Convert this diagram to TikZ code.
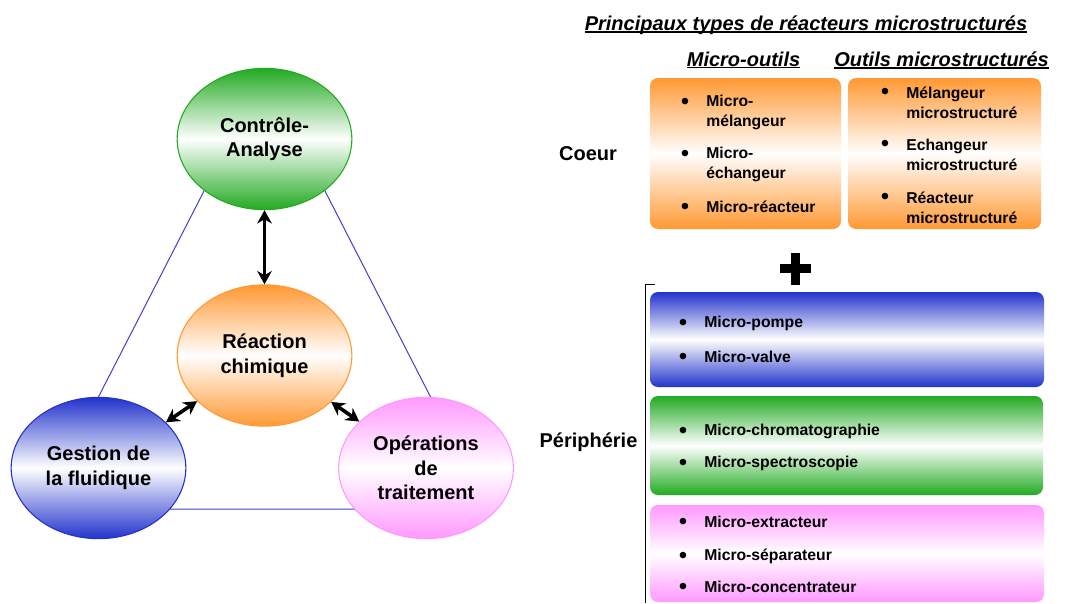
\documentclass[tikz,border=0pt]{standalone}
\usepackage{fontspec}
\setmainfont{Liberation Sans}
\usetikzlibrary{shapes.geometric,arrows.meta}
\definecolor{vertC}{RGB}{34,170,34}
\definecolor{orangeC}{RGB}{255,153,51}
\definecolor{bleuC}{RGB}{34,51,204}
\definecolor{roseC}{RGB}{255,153,255}
\definecolor{traitC}{RGB}{64,64,200}
\newcommand{\titresouligne}[1]{\setbox0\hbox{#1}\rlap{\rule[-1.8pt]{\wd0}{0.9pt}}\box0}
\tikzset{
  bulle/.style={ellipse, minimum width=131pt, minimum height=106pt, inner sep=0pt, line width=0.8pt,
    align=center, font=\bfseries\fontsize{15}{18.5}\selectfont,
    top color=#1, bottom color=#1, middle color=white, draw=#1},
  boite/.style={rounded corners=6pt, inner sep=0pt, top color=#1, bottom color=#1, middle color=white},
  puce/.style={inner sep=0pt, yshift=-1.5pt, font=\fontsize{18}{18}\selectfont},
  item/.style={anchor=west, inner sep=0pt, align=left, font=\bfseries\fontsize{11.8}{15}\selectfont},
  titre/.style={inner sep=0pt, font=\bfseries\itshape\fontsize{15}{18}\selectfont},
  rubrique/.style={inner sep=0pt, font=\bfseries\fontsize{15}{18}\selectfont},
  fleche/.style={{Stealth[length=10pt,width=11pt]}-{Stealth[length=10pt,width=11pt]}, line width=2.7pt},
}
\begin{document}
\begin{tikzpicture}[x=0.75pt,y=-0.75pt]
\useasboundingbox (0,0) rectangle (1069,603);
% triangle behind the bubbles
\coordinate (sommet) at (264.5,73);
\coordinate (coingauche) at (41,509);
\coordinate (coindroit) at (488,509);
\draw[traitC, line width=0.75pt] (sommet) -- (coingauche) -- (coindroit) -- cycle;
% bubbles
\node[bulle=vertC] (controle) at (264.5,139) {Contrôle-\\Analyse};
\node[bulle=orangeC] (reaction) at (264.5,355.5) {Réaction\\chimique};
\node[bulle=bleuC] (gestion) at (98.5,468) {Gestion de\\la fluidique};
\node[bulle=roseC] (operations) at (426,468) {Opérations\\de\\traitement};
\draw[fleche] (controle) -- (reaction);
\draw[fleche] (reaction) -- (gestion);
\draw[fleche] (reaction) -- (operations);
% titles
\node[titre] (principaux) at (806,25) {\titresouligne{Principaux types de réacteurs microstructurés}};
\node[titre] (microoutils) at (743.5,60) {\titresouligne{Micro-outils}};
\node[titre] (outilsms) at (941.5,60) {\titresouligne{Outils microstructurés}};
\node[rubrique] (coeur) at (588,154) {Coeur};
\node[rubrique] (peripherie) at (588.5,442) {Périphérie};
% coeur boxes
\node[boite=orangeC, minimum width=143.25pt, minimum height=113.25pt] (outils) at (745.5,153.5) {};
\node[boite=orangeC, minimum width=144.75pt, minimum height=113.25pt] (structures) at (944.5,153.5) {};
\foreach \y in {102,154,207} \node[puce] at (685,\y) {•};
\node[item] (m1) at (706,112.5) {Micro-\\mélangeur};
\node[item] (m2) at (706,164) {Micro-\\échangeur};
\node[item] (m3) at (706,207) {Micro-réacteur};
\foreach \y in {92,144,197} \node[puce] at (885,\y) {•};
\node[item] (s1) at (906,103) {Mélangeur\\microstructuré};
\node[item] (s2) at (906,154.5) {Echangeur\\microstructuré};
\node[item] (s3) at (906,207.5) {Réacteur\\microstructuré};
% plus
\draw[line width=6.75pt] (780,268) -- (811,268) (795.5,253) -- (795.5,285);
% bracket
\draw[line width=0.75pt] (655,284) -- (645,284) -- (645,603);
% peripherie boxes
\node[boite=bleuC, minimum width=295.5pt, minimum height=71.25pt] (pompes) at (847,339.5) {};
\node[boite=vertC, minimum width=294.75pt, minimum height=74.25pt] (analyse) at (846.5,445.5) {};
\node[boite=roseC, minimum width=295.5pt, minimum height=72.75pt] (separation) at (847,553.5) {};
\foreach \y/\t in {323/Micro-pompe,357/Micro-valve,431/Micro-chromatographie,463/Micro-spectroscopie,522/Micro-extracteur,556/Micro-séparateur,587/Micro-concentrateur}{
  \node[puce] at (683,\y) {•};
  \node[item] at (704,\y) {\t};
}
\end{tikzpicture}
\end{document}
